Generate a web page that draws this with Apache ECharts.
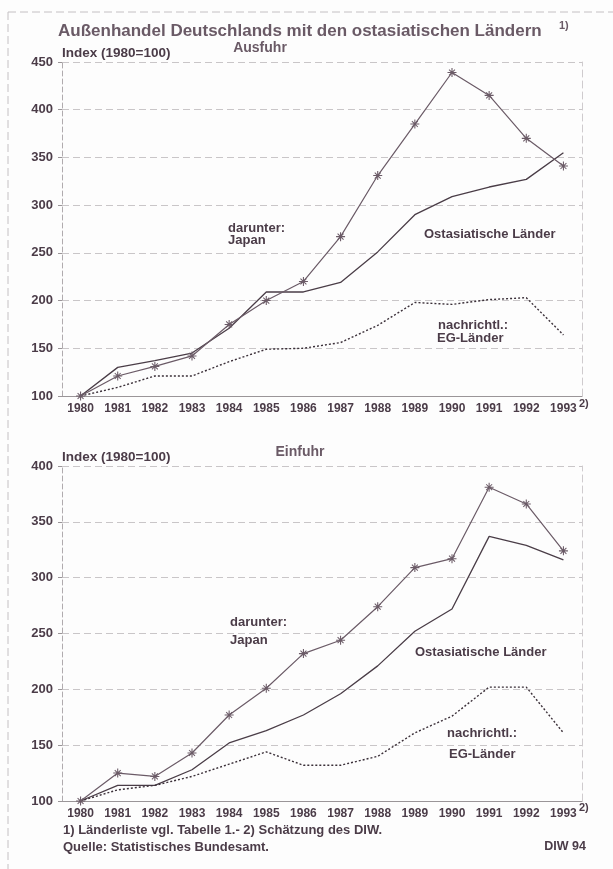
<!DOCTYPE html>
<html>
<head>
<meta charset="utf-8">
<script src="https://cdn.jsdelivr.net/npm/echarts@6/dist/echarts.min.js"></script>
<style>
  html, body { margin: 0; padding: 0; background: #fdfdfd; }
  #chart { width: 613px; height: 869px; }
</style>
</head>
<body>
<div id="chart"></div>
<script>
// Außenhandel Deutschlands mit den ostasiatischen Ländern, Index 1980=100
const years = ['1980', '1981', '1982', '1983', '1984', '1985', '1986',
               '1987', '1988', '1989', '1990', '1991', '1992', '1993'];

// Ausfuhr
const ausJapan = [100, 121, 131, 142, 175, 200, 220, 267, 331, 385, 439, 415, 370, 341];
const ausOstasien = [100, 130, 137, 145, 171, 209, 209, 219, 251, 290, 309, 319, 327, 355];
const ausEG = [100, 109, 121, 121, 136, 149, 150, 156, 174, 198, 196, 201, 203, 164];

// Einfuhr
const einJapan = [100, 125, 122, 143, 177, 201, 232, 244, 274, 309, 317, 381, 366, 324];
const einOstasien = [100, 114, 114, 128, 152, 163, 177, 196, 221, 252, 272, 337, 329, 316];
const einEG = [100, 110, 114, 122, 133, 144, 132, 132, 140, 161, 176, 202, 202, 161];

const TXT = '#4b3c48';
const TITLE = '#6a5a66';
const GRID = '#c9c6c8';
const FONT = "'Liberation Sans', Arial, sans-serif";

// Sternchen-Marker (Plus + Kreuz)
const STAR = 'path://M-0.6,-5H0.6V5H-0.6Z M-5,-0.6H5V0.6H-5Z '
  + 'M-3.7,-2.9L-2.9,-3.7L3.7,2.9L2.9,3.7Z M2.9,-3.7L3.7,-2.9L-2.9,3.7L-3.7,2.9Z';

function xAxisFor(gridIndex) {
  return {
    type: 'category', gridIndex, data: years, boundaryGap: true,
    axisLine: { lineStyle: { color: '#9a9598', width: 1 } },
    axisTick: { alignWithLabel: true, length: 3, lineStyle: { color: '#b5b0b3' } },
    axisLabel: { color: TXT, fontFamily: FONT, fontWeight: 'bold', fontSize: 12, margin: 7 },
    splitLine: { show: false },
  };
}

function yAxisFor(gridIndex, max) {
  return {
    type: 'value', gridIndex, min: 100, max, interval: 50,
    axisLine: { show: true, lineStyle: { color: '#b0abae', type: [5, 3] } },
    axisTick: { show: true, inside: false, length: 4, lineStyle: { color: '#9a9598' } },
    axisLabel: { color: TXT, fontFamily: FONT, fontWeight: 'bold', fontSize: 13, margin: 9 },
    splitLine: { lineStyle: { color: GRID, type: [7, 4], width: 1 } },
  };
}

// rechte Rahmenlinie, gestrichelt wie die Gitterlinien
function rightEdgeFor(gridIndex, max) {
  return {
    type: 'value', gridIndex, min: 100, max, interval: 50, position: 'right',
    axisLine: { show: true, lineStyle: { color: '#cfcbce', type: [7, 4] } },
    axisTick: { show: false }, axisLabel: { show: false }, splitLine: { show: false },
  };
}

function seriesFor(idx, japan, ost, eg) {
  return [
    {
      name: 'Japan', type: 'line', xAxisIndex: idx, yAxisIndex: idx, data: japan,
      symbol: STAR, symbolSize: 9, showSymbol: true,
      lineStyle: { color: '#6b5b67', width: 1.2 },
      itemStyle: { color: '#6b5b67' },
      animation: false, z: 4,
    },
    {
      name: 'Ostasiatische Länder', type: 'line', xAxisIndex: idx, yAxisIndex: idx, data: ost,
      symbol: 'none', lineStyle: { color: '#4a3d47', width: 1.3 },
      animation: false, z: 3,
    },
    {
      name: 'EG-Länder', type: 'line', xAxisIndex: idx, yAxisIndex: idx, data: eg,
      symbol: 'none', lineStyle: { color: '#3b3039', width: 1.4, type: [2, 2] },
      animation: false, z: 3,
    },
  ];
}

function txt(text, x, y, opts) {
  opts = opts || {};
  return {
    type: 'text', x, y, silent: true,
    style: {
      text, fill: opts.color || TXT,
      font: (opts.weight || 'bold') + ' ' + (opts.size || 13) + 'px ' + FONT,
      textAlign: opts.align || 'left', textVerticalAlign: 'middle',
    },
  };
}

const chart = echarts.init(document.getElementById('chart'), null, { renderer: 'canvas' });
chart.setOption({
  backgroundColor: '#fdfdfd',
  animation: false,
  grid: [
    { left: 62, right: 31, top: 62, height: 334 },
    { left: 62, right: 31, top: 466, height: 335 },
  ],
  xAxis: [xAxisFor(0), xAxisFor(1)],
  yAxis: [yAxisFor(0, 450), yAxisFor(1, 400), rightEdgeFor(0, 450), rightEdgeFor(1, 400)],
  series: [].concat(seriesFor(0, ausJapan, ausOstasien, ausEG), seriesFor(1, einJapan, einOstasien, einEG)),
  graphic: [
    // Rahmen links und oben
    { type: 'line', silent: true, shape: { x1: 8, y1: 12, x2: 613, y2: 12 }, style: { stroke: '#c4c0c3', lineWidth: 1, lineDash: [8, 4] } },
    { type: 'line', silent: true, shape: { x1: 8, y1: 12, x2: 8, y2: 869 }, style: { stroke: '#c4c0c3', lineWidth: 1, lineDash: [8, 4] } },
    // Titel
    txt('Außenhandel Deutschlands mit den ostasiatischen Ländern', 58, 31, { size: 17, color: TITLE }),
    txt('1)', 559, 26, { size: 11, color: TITLE }),
    // Ausfuhr
    txt('Index (1980=100)', 62, 53, { size: 13.5 }),
    txt('Ausfuhr', 260, 48, { size: 14, align: 'center', color: TITLE }),
    txt('darunter:', 228, 228),
    txt('Japan', 228, 240),
    txt('Ostasiatische Länder', 424, 234),
    txt('nachrichtl.:', 438, 325),
    txt('EG-Länder', 437, 338),
    txt('2)', 579, 404, { size: 11 }),
    // Einfuhr
    txt('Index (1980=100)', 62, 457, { size: 13.5 }),
    txt('Einfuhr', 300, 452, { size: 14, align: 'center', color: TITLE }),
    txt('darunter:', 230, 622),
    txt('Japan', 230, 640),
    txt('Ostasiatische Länder', 415, 652),
    txt('nachrichtl.:', 447, 733),
    txt('EG-Länder', 449, 754),
    txt('2)', 579, 808, { size: 11 }),
    // Fußnoten
    txt('1) Länderliste vgl. Tabelle 1.- 2) Schätzung des DIW.', 63, 830, { size: 13 }),
    txt('Quelle: Statistisches Bundesamt.', 63, 847, { size: 13 }),
    txt('DIW 94', 586, 847, { size: 12.5, align: 'right' }),
  ],
});
</script>
</body>
</html>
